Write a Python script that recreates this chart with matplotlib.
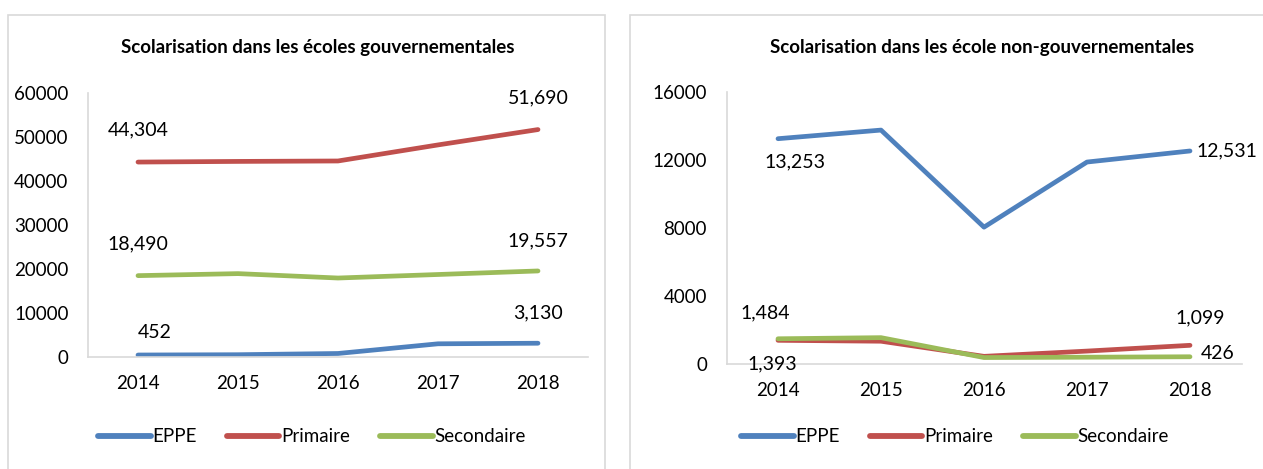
import matplotlib.pyplot as plt
from matplotlib.patches import Rectangle
import numpy as np

years = ['2014', '2015', '2016', '2017', '2018']
series = ['EPPE', 'Primaire', 'Secondaire']
colors = ['#4F81BD', '#C0504D', '#9BBB59']

# ecoles gouvernementales
gov_eppe = [452, 520, 800, 3000, 3130]
gov_prim = [44304, 44450, 44550, 48200, 51690]
gov_sec = [18490, 18950, 17950, 18750, 19557]

# ecoles non-gouvernementales
ngov_eppe = [13253, 13760, 8050, 11880, 12531]
ngov_prim = [1393, 1340, 450, 760, 1099]
ngov_sec = [1484, 1550, 380, 400, 426]

plt.rcParams['font.family'] = ['Lato', 'DejaVu Sans']

W, H = 1263, 469
fig = plt.figure(figsize=(W / 100, H / 100), dpi=100)

# panel borders
for x0, x1 in [(8, 605), (630, 1275)]:
    fig.add_artist(Rectangle((x0 / W, -0.1), (x1 - x0) / W, (H - 15) / H + 0.1,
                             transform=fig.transFigure, fill=False,
                             edgecolor='#d9d9d9', lw=1.2))


def panel(rect, data, ymax, ystep, title, tx, labels, legx):
    ax = fig.add_axes([rect[0] / W, 1 - rect[3] / H, (rect[1] - rect[0]) / W,
                       (rect[3] - rect[2]) / H])
    x = np.arange(len(years))
    for vals, c, name in zip(data, colors, series):
        ax.plot(x, vals, color=c, lw=3.4, label=name, solid_capstyle='round')
    for si, idx, dx, dy, ha in labels:
        v = data[si][idx]
        ax.annotate(f'{v:,}', (idx, v), xytext=(dx, dy), textcoords='offset points',
                    ha=ha, va='center', fontsize=14, color='#000000')
    ax.set_xlim(-0.5, len(years) - 0.5)
    ax.set_ylim(0, ymax)
    ax.set_yticks(np.arange(0, ymax + 1, ystep))
    ax.set_xticks(x)
    ax.set_xticklabels(years)
    for s in ['top', 'right']:
        ax.spines[s].set_visible(False)
    for s in ['left', 'bottom']:
        ax.spines[s].set_color('#d9d9d9')
        ax.spines[s].set_linewidth(1.2)
    ax.tick_params(length=0, labelsize=13.5)
    ax.tick_params(axis='y', pad=14)
    ax.tick_params(axis='x', pad=13)
    ax.patch.set_alpha(0)
    fig.text(tx / W, 1 - 48 / H, title, ha='center', va='center',
             fontsize=13.5, fontweight='bold')
    leg = fig.legend(*ax.get_legend_handles_labels(), loc='center',
                     bbox_to_anchor=(legx / W, 1 - 437 / H), ncol=3, frameon=False,
                     fontsize=13.5, handlelength=2.8, columnspacing=1.6, handletextpad=0.1)
    for l in leg.get_lines():
        l.set_linewidth(4.2)
    return ax


panel((88, 588, 93, 357), [gov_eppe, gov_prim, gov_sec], 60000, 10000,
      'Scolarisation dans les écoles gouvernementales', 318,
      [(1, 0, 0, 23, 'center'), (1, 4, 0, 23, 'center'), (2, 0, 0, 23, 'center'),
       (2, 4, 0, 22, 'center'), (0, 0, 12, 16, 'center'), (0, 4, 0, 22, 'center')], 312)

panel((726.5, 1241.5, 92, 364), [ngov_eppe, ngov_prim, ngov_sec], 16000, 4000,
      'Scolarisation dans les école non-gouvernementales', 982,
      [(0, 0, 12, -17, 'center'), (0, 4, 5, 0, 'left'), (2, 0, -9, 19, 'center'),
       (1, 0, -4, -17, 'center'), (1, 4, 7, 20, 'center'), (2, 4, 8, 2, 'left')], 955)

fig.savefig('out.png', dpi=100)
